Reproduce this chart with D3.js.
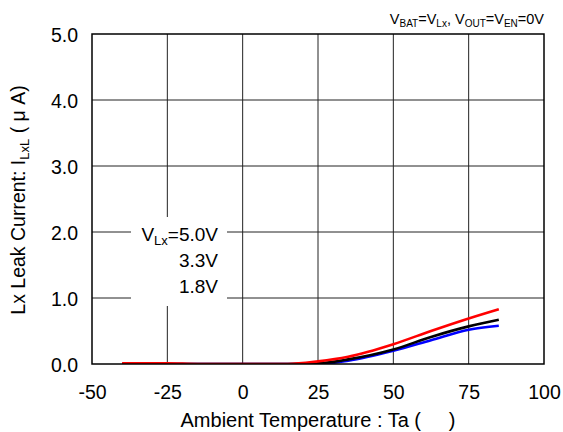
<!DOCTYPE html>
<html><head><meta charset="utf-8">
<script src="https://cdn.jsdelivr.net/npm/d3@7"></script>
<style>
html,body{margin:0;padding:0;background:#fff;}
text{font-family:"Liberation Sans",Arial,sans-serif;fill:#000;}
</style></head>
<body><svg id="c" width="563" height="432"></svg>
<script>
const xTicks = [-50,-25,0,25,50,75,100];
const yTicks = [0,1,2,3,4,5];
const temps  = [-40,-25,-15,0,15,25,35,50,62.5,75,85];
const red    = [0.01,0.01,0.0,0.0,0.0,0.04,0.11,0.30,0.50,0.69,0.83];
const black  = [0.0,0.0,0.0,0.0,0.0,0.01,0.07,0.22,0.41,0.57,0.67];
const blue   = [0.0,0.0,0.0,0.0,0.0,0.0,0.05,0.20,0.36,0.52,0.58];
const legendLabels = ["5.0V","3.3V","1.8V"];

const svg = d3.select("#c");
const L=92,R=544,T=34,B=364;
const x = d3.scaleLinear().domain([-50,100]).range([L,R]);
const y = d3.scaleLinear().domain([0,5]).range([B,T]);

svg.append("clipPath").attr("id","clip").append("rect")
  .attr("x",L).attr("y",T).attr("width",R-L).attr("height",B-T);

// grid
const g = svg.append("g");
g.selectAll(".vg").data(xTicks.slice(1,-1)).join("line")
  .attr("x1",d=>x(d)).attr("x2",d=>x(d)).attr("y1",T).attr("y2",B)
  .attr("stroke","#222").attr("stroke-width",1);
g.selectAll(".hg").data(yTicks.slice(1,-1)).join("line")
  .attr("x1",L).attr("x2",R).attr("y1",d=>y(d)).attr("y2",d=>y(d))
  .attr("stroke","#222").attr("stroke-width",1);

// series
const line = d3.line().x((d,i)=>x(temps[i])).y(d=>y(d)).curve(d3.curveMonotoneX);
[[blue,"#0000ff"],[black,"#000000"],[red,"#ff0000"]].forEach(([s,c])=>{
  svg.append("path").datum(s).attr("d",line).attr("fill","none")
    .attr("clip-path","url(#clip)")
    .attr("stroke",c).attr("stroke-width",2.6);
});

// frame
svg.append("rect").attr("x",L).attr("y",T).attr("width",R-L).attr("height",B-T)
  .attr("fill","none").attr("stroke","#000").attr("stroke-width",1.5);

// legend box
svg.append("rect").attr("x",131).attr("y",217).attr("width",96).attr("height",89).attr("fill","#fff");
const lg = svg.append("g").attr("font-size",19).attr("text-anchor","end");
const t0 = lg.append("text").attr("x",218).attr("y",241);
t0.append("tspan").text("V");
t0.append("tspan").attr("font-size",13).attr("dy",4).text("Lx");
t0.append("tspan").attr("dy",-4).text("="+legendLabels[0]);
lg.append("text").attr("x",218).attr("y",267).text(legendLabels[1]);
lg.append("text").attr("x",218).attr("y",293).text(legendLabels[2]);

// axes labels
const xAxis = d3.axisBottom(x).tickValues(xTicks).tickSize(0).tickPadding(0).tickFormat(d=>String(d));
const xa = svg.append("g").attr("transform",`translate(0,${B})`).call(xAxis);
xa.select(".domain").remove();
xa.selectAll("text").attr("font-size",19.5).attr("dy",null).attr("y",35).attr("font-family",null);

const yAxis = d3.axisLeft(y).tickValues(yTicks).tickSize(0).tickPadding(0).tickFormat(d3.format(".1f"));
const ya = svg.append("g").attr("transform",`translate(78,0)`).call(yAxis);
ya.select(".domain").remove();
ya.selectAll("text").attr("font-size",19.5).attr("dy","0.36em").attr("font-family",null);

// x title
svg.append("text").attr("x",318).attr("y",427).attr("text-anchor","middle").attr("font-size",20)
  .text("Ambient Temperature : Ta (\u00a0\u00a0\u00a0\u00a0\u00a0)");

// y title
const yt = svg.append("text").attr("transform","translate(25,200) rotate(-90)")
  .attr("text-anchor","middle").attr("font-size",19.5);
yt.append("tspan").text("Lx Leak Current: I");
yt.append("tspan").attr("font-size",13).attr("dy",4).text("LxL");
yt.append("tspan").attr("dy",-4).text(" ( μ A)");

// top-right condition
const tt = svg.append("text").attr("x",544).attr("y",24).attr("text-anchor","end").attr("font-size",14.5);
tt.append("tspan").text("V");
tt.append("tspan").attr("font-size",10).attr("dy",3).text("BAT");
tt.append("tspan").attr("dy",-3).text("=V");
tt.append("tspan").attr("font-size",10).attr("dy",3).text("Lx");
tt.append("tspan").attr("dy",-3).text(", V");
tt.append("tspan").attr("font-size",10).attr("dy",3).text("OUT");
tt.append("tspan").attr("dy",-3).text("=V");
tt.append("tspan").attr("font-size",10).attr("dy",3).text("EN");
tt.append("tspan").attr("dy",-3).text("=0V");
</script></body></html>
